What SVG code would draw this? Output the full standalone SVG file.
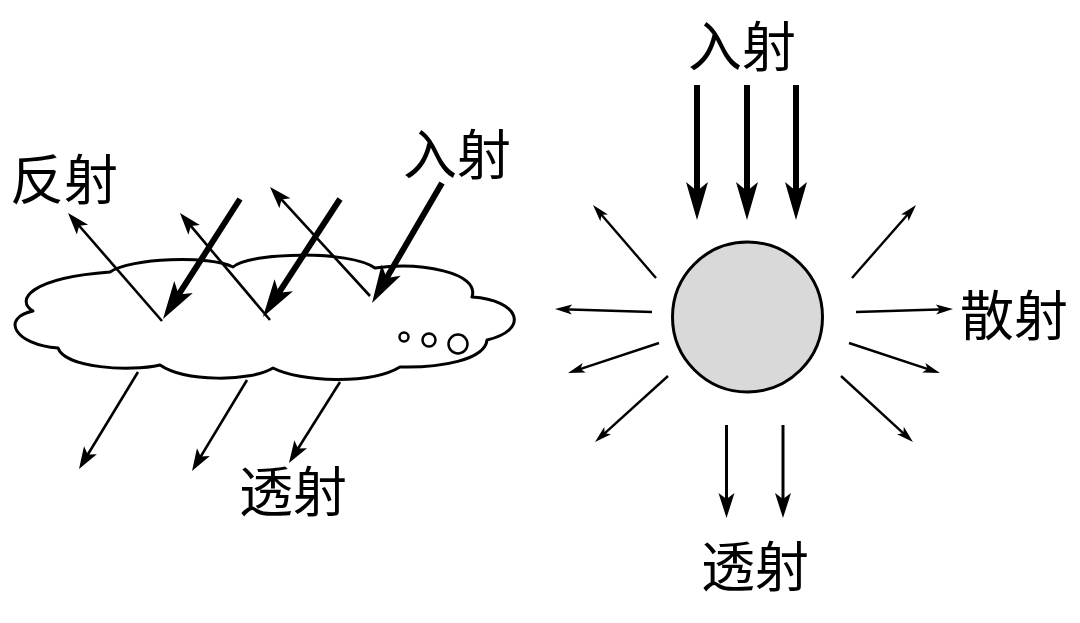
<svg xmlns="http://www.w3.org/2000/svg" width="1080" height="623" viewBox="0 0 1080 623">
<style>
.lbl{font-family:"Noto Sans CJK SC","Noto Sans CJK JP",sans-serif;font-size:54px;fill:#000;text-anchor:middle}
.thick{stroke:#000;stroke-width:6;fill:none;marker-end:url(#mThick)}
.med{stroke:#000;stroke-width:2.6;fill:none;marker-end:url(#mMed)}
.thin{stroke:#000;stroke-width:2.4;fill:none;marker-end:url(#mThin)}
.down{stroke:#000;stroke-width:3;fill:none;marker-end:url(#mDown)}
</style>
<defs>
<marker id="mThick" markerUnits="userSpaceOnUse" orient="auto" refX="18" refY="0" markerWidth="40" markerHeight="24" overflow="visible"><path d="M0,-11 L38,0 L0,11 L9,0Z" fill="#000"/></marker>
<marker id="mMed" markerUnits="userSpaceOnUse" orient="auto" refX="12" refY="0" markerWidth="24" markerHeight="16" overflow="visible"><path d="M0,-7.5 L22,0 L0,7.5 L5,0Z" fill="#000"/></marker>
<marker id="mThin" markerUnits="userSpaceOnUse" orient="auto" refX="10" refY="0" markerWidth="18" markerHeight="12" overflow="visible"><path d="M0,-5 L17,0 L0,5 L4,0Z" fill="#000"/></marker>
<marker id="mDown" markerUnits="userSpaceOnUse" orient="auto" refX="13" refY="0" markerWidth="26" markerHeight="18" overflow="visible"><path d="M0,-8 L25,0 L0,8 L6,0Z" fill="#000"/></marker>
</defs>
<rect width="1080" height="623" fill="#fff"/>
<g id="cloud">
<path d="M33,311 C15,300 30,278 110,272 C130,258 210,255 233,267 C250,252 350,250 375,268 C420,262 480,272 472,297 C520,300 530,330 487,340 C485,360 440,368 400,367 C370,385 300,382 273,368 C250,382 185,382 160,365 C130,372 65,368 58,348 C15,345 0,318 33,311 Z" fill="#fff" stroke="#000" stroke-width="3" stroke-linejoin="round"/>
<circle cx="404" cy="337" r="4.5" fill="none" stroke="#000" stroke-width="2.5"/>
<circle cx="429" cy="340" r="6.5" fill="none" stroke="#000" stroke-width="2.5"/>
<circle cx="458" cy="344" r="9.5" fill="none" stroke="#000" stroke-width="2.5"/>
</g>
<g id="particle">
<circle cx="747.5" cy="317" r="75" fill="#d9d9d9" stroke="#000" stroke-width="3"/>
</g>
<g id="connectors">
<line class="med" x1="162" y1="321" x2="74.6" y2="220.5"/>
<line class="med" x1="270" y1="320" x2="186.4" y2="220.7"/>
<line class="med" x1="370" y1="296" x2="276.8" y2="194.4"/>
<line class="thick" x1="240" y1="199" x2="173.8" y2="302.2"/>
<line class="thick" x1="340" y1="199" x2="273.9" y2="300.3"/>
<line class="thick" x1="442" y1="183" x2="382.1" y2="285.7"/>
<line class="med" x1="138" y1="372" x2="84.2" y2="460.5"/>
<line class="med" x1="247" y1="380" x2="197.2" y2="462.4"/>
<line class="med" x1="340" y1="382" x2="294.3" y2="454.5"/>
<line class="thick" x1="697" y1="85" x2="697" y2="200"/>
<line class="thick" x1="747" y1="85" x2="747" y2="200"/>
<line class="thick" x1="796" y1="85" x2="796" y2="200"/>
<line class="thin" x1="656" y1="278" x2="597.6" y2="210.3"/>
<line class="thin" x1="652" y1="312" x2="562" y2="309.2"/>
<line class="thin" x1="659" y1="343" x2="574.7" y2="370.8"/>
<line class="thin" x1="668" y1="376" x2="600.2" y2="437.3"/>
<line class="thin" x1="852" y1="278" x2="911.4" y2="210.3"/>
<line class="thin" x1="856" y1="312" x2="946" y2="309.2"/>
<line class="thin" x1="849" y1="343" x2="933.3" y2="370.8"/>
<line class="thin" x1="841" y1="376" x2="907.8" y2="437.3"/>
<line class="down" x1="726.5" y1="425" x2="726.5" y2="506"/>
<line class="down" x1="783" y1="425" x2="783" y2="506"/>
</g>
<g id="labels">
<text class="lbl" x="64" y="200">反射</text>
<text class="lbl" x="457" y="175">入射</text>
<text class="lbl" x="742" y="67">入射</text>
<text class="lbl" x="1014" y="336">散射</text>
<text class="lbl" x="293" y="512">透射</text>
<text class="lbl" x="755" y="587">透射</text>
</g>
</svg>
